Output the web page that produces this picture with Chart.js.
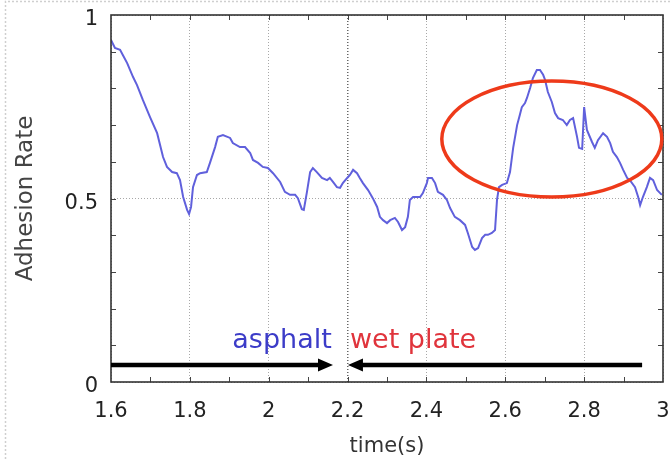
<!DOCTYPE html>
<html>
<head>
<meta charset="utf-8">
<script src="https://cdn.jsdelivr.net/npm/chart.js@4"></script>
<style>
  html, body { margin: 0; padding: 0; background: #fff; }
  canvas { display: block; }
</style>
</head>
<body>
<canvas id="adhesionChart" width="672" height="459"></canvas>
<script>
// time axis (s) and adhesion rate samples
const timeS = [
  1.600, 1.610, 1.623, 1.630, 1.641, 1.656, 1.666, 1.681, 1.699, 1.717,
  1.732, 1.742, 1.755, 1.767, 1.775, 1.783, 1.793, 1.798, 1.803, 1.808,
  1.818, 1.826, 1.843, 1.851, 1.864, 1.871, 1.884, 1.902, 1.909, 1.927,
  1.940, 1.953, 1.960, 1.973, 1.985, 1.998, 2.011, 2.029, 2.041, 2.054,
  2.067, 2.074, 2.084, 2.089, 2.097, 2.105, 2.112, 2.122, 2.135, 2.148,
  2.155, 2.163, 2.173, 2.181, 2.188, 2.199, 2.206, 2.214, 2.224, 2.231,
  2.239, 2.252, 2.264, 2.275, 2.282, 2.290, 2.300, 2.308, 2.320, 2.328,
  2.338, 2.346, 2.353, 2.358, 2.366, 2.384, 2.391, 2.401, 2.404, 2.414,
  2.422, 2.429, 2.442, 2.452, 2.460, 2.472, 2.485, 2.498, 2.505, 2.516,
  2.523, 2.531, 2.541, 2.549, 2.556, 2.566, 2.574, 2.579, 2.584, 2.592,
  2.604, 2.612, 2.620, 2.630, 2.637, 2.642, 2.650, 2.655, 2.663, 2.670,
  2.680, 2.688, 2.696, 2.701, 2.708, 2.718, 2.726, 2.734, 2.746, 2.756,
  2.764, 2.772, 2.782, 2.787, 2.795, 2.800, 2.807, 2.820, 2.827, 2.835,
  2.848, 2.858, 2.866, 2.873, 2.883, 2.891, 2.899, 2.909, 2.916, 2.929,
  2.937, 2.942, 2.949, 2.959, 2.967, 2.975, 2.985, 2.997
];
const adhesion = [
  0.932, 0.910, 0.905, 0.891, 0.869, 0.831, 0.809, 0.768, 0.722, 0.678,
  0.613, 0.586, 0.572, 0.569, 0.550, 0.504, 0.469, 0.458, 0.477, 0.531,
  0.564, 0.569, 0.572, 0.597, 0.640, 0.668, 0.673, 0.665, 0.651, 0.640,
  0.640, 0.624, 0.605, 0.597, 0.586, 0.583, 0.569, 0.545, 0.518, 0.510,
  0.510, 0.501, 0.471, 0.469, 0.518, 0.572, 0.583, 0.572, 0.556, 0.550,
  0.556, 0.545, 0.531, 0.529, 0.542, 0.556, 0.564, 0.578, 0.569, 0.556,
  0.542, 0.523, 0.501, 0.477, 0.450, 0.441, 0.433, 0.441, 0.447, 0.436,
  0.414, 0.422, 0.450, 0.496, 0.504, 0.504, 0.515, 0.542, 0.556, 0.556,
  0.542, 0.518, 0.510, 0.496, 0.474, 0.450, 0.441, 0.428, 0.406, 0.368,
  0.360, 0.365, 0.392, 0.401, 0.401, 0.406, 0.414, 0.496, 0.531, 0.537,
  0.542, 0.572, 0.638, 0.700, 0.728, 0.749, 0.760, 0.774, 0.801, 0.828,
  0.850, 0.850, 0.837, 0.823, 0.790, 0.763, 0.733, 0.719, 0.714, 0.700,
  0.714, 0.719, 0.668, 0.638, 0.635, 0.749, 0.687, 0.654, 0.638, 0.659,
  0.678, 0.668, 0.651, 0.627, 0.613, 0.597, 0.578, 0.556, 0.550, 0.531,
  0.504, 0.482, 0.504, 0.531, 0.556, 0.550, 0.523, 0.510
];

const xTicks = [1.6, 1.8, 2.0, 2.2, 2.4, 2.6, 2.8, 3.0];
const xTickLabels = ['1.6', '1.8', '2', '2.2', '2.4', '2.6', '2.8', '3'];
const yTicks = [0, 0.5, 1];
const yTickLabels = ['0', '0.5', '1'];

const FONT = 'DejaVu Sans';

// frame, minor ticks, surface arrows and the highlight ellipse
const decor = {
  id: 'decor',
  beforeDraw(chart) {
    const c = chart.ctx;
    c.save();
    c.fillStyle = '#fff';
    c.fillRect(0, 0, chart.width, chart.height);
    c.strokeStyle = '#cfcfcf';
    c.lineWidth = 1.5;
    c.setLineDash([2, 2]);
    c.beginPath();
    c.moveTo(5.5, chart.height);
    c.lineTo(5.5, 1.5);
    c.lineTo(chart.width, 1.5);
    c.stroke();
    c.restore();
  },
  afterDatasetsDraw(chart) {
    const c = chart.ctx;
    const a = chart.chartArea;
    const x = chart.scales.x, y = chart.scales.y;
    c.save();

    // minor ticks every 0.1 on all four sides
    c.strokeStyle = '#444';
    c.lineWidth = 1;
    c.beginPath();
    for (let i = 1; i < 14; i++) {
      const px = Math.round(x.getPixelForValue(1.6 + i * 0.1)) + 0.5;
      c.moveTo(px, a.top); c.lineTo(px, a.top + 5);
      c.moveTo(px, a.bottom); c.lineTo(px, a.bottom - 5);
    }
    for (let i = 1; i < 10; i++) {
      const py = Math.round(y.getPixelForValue(i * 0.1)) + 0.5;
      c.moveTo(a.left, py); c.lineTo(a.left + 5, py);
      c.moveTo(a.right, py); c.lineTo(a.right - 5, py);
    }
    c.stroke();

    // plot frame
    c.strokeStyle = '#333';
    c.lineWidth = 1.6;
    c.strokeRect(a.left, a.top, a.right - a.left, a.bottom - a.top);

    // arrows marking the two surfaces
    const arrowY = y.getPixelForValue(0.046);
    const arrow = (from, to) => {
      const x0 = x.getPixelForValue(from), x1 = x.getPixelForValue(to);
      const dir = Math.sign(x1 - x0);
      c.strokeStyle = '#000';
      c.fillStyle = '#000';
      c.lineWidth = 4.5;
      c.beginPath();
      c.moveTo(x0, arrowY);
      c.lineTo(x1 - dir * 10, arrowY);
      c.stroke();
      c.beginPath();
      c.moveTo(x1, arrowY);
      c.lineTo(x1 - dir * 15, arrowY - 6.5);
      c.lineTo(x1 - dir * 15, arrowY + 6.5);
      c.closePath();
      c.fill();
    };
    arrow(1.6, 2.163);
    arrow(2.947, 2.201);

    c.font = '27px "' + FONT + '"';
    c.textBaseline = 'alphabetic';
    const textY = y.getPixelForValue(0.093);
    c.fillStyle = '#3c3cc8';
    c.textAlign = 'right';
    c.fillText('asphalt', x.getPixelForValue(2.160), textY);
    c.fillStyle = '#e0343c';
    c.textAlign = 'left';
    c.fillText('wet plate', x.getPixelForValue(2.206), textY);

    // highlight around the peak region
    const cx = x.getPixelForValue(2.718), cy = y.getPixelForValue(0.662);
    const rx = x.getPixelForValue(2.997) - cx;
    const ry = cy - y.getPixelForValue(0.82);
    c.strokeStyle = '#ee3a1a';
    c.lineWidth = 3.5;
    c.beginPath();
    c.ellipse(cx, cy, rx, ry, 0, 0, Math.PI * 2);
    c.stroke();

    c.restore();
  }
};

const ctx = document.getElementById('adhesionChart').getContext('2d');

new Chart(ctx, {
  type: 'line',
  data: {
    datasets: [{
      label: 'Adhesion Rate',
      data: timeS.map((t, i) => ({ x: t, y: adhesion[i] })),
      borderColor: 'rgb(96, 96, 220)',
      borderWidth: 2,
      pointRadius: 0,
      tension: 0,
      fill: false
    }]
  },
  options: {
    responsive: false,
    animation: false,
    events: [],
    layout: { padding: { top: 15, right: 9, left: 0, bottom: 0 } },
    plugins: {
      legend: { display: false },
      tooltip: { enabled: false }
    },
    scales: {
      x: {
        type: 'linear',
        min: 1.6,
        max: 3.0,
        afterFit: s => {
          s.height = 77;
          s.paddingLeft = 0;
          s.paddingRight = 0;
        },
        afterBuildTicks: s => { s.ticks = xTicks.map(v => ({ value: v })); },
        ticks: {
          padding: 17,
          color: '#222',
          font: { family: FONT, size: 21 },
          callback: (v, i) => xTickLabels[i]
        },
        grid: {
          drawTicks: false,
          color: c => Math.abs(c.tick.value - 2.2) < 1e-6 ? '#666' : '#a8a8a8',
          lineWidth: c => Math.abs(c.tick.value - 2.2) < 1e-6 ? 1.5 : 1
        },
        border: { display: false, dash: [1, 2] },
        title: {
          display: true,
          text: 'time(s)',
          color: '#333',
          font: { family: FONT, size: 21 },
          padding: { top: 0, bottom: 0 }
        }
      },
      y: {
        type: 'linear',
        min: 0,
        max: 1,
        afterFit: s => {
          s.width = 111;
          s.paddingTop = 0;
          s.paddingBottom = 0;
        },
        afterBuildTicks: s => { s.ticks = yTicks.map(v => ({ value: v })); },
        ticks: {
          padding: 13,
          labelOffset: 5,
          color: '#222',
          font: { family: FONT, size: 21 },
          callback: (v, i) => yTickLabels[i]
        },
        grid: {
          drawTicks: false,
          color: '#a8a8a8',
          lineWidth: 1
        },
        border: { display: false, dash: [1, 2] },
        title: {
          display: true,
          text: 'Adhesion Rate',
          color: '#444',
          font: { family: FONT, size: 23 },
          padding: { top: 12, bottom: 0 }
        }
      }
    }
  },
  plugins: [decor]
});
</script>
</body>
</html>
